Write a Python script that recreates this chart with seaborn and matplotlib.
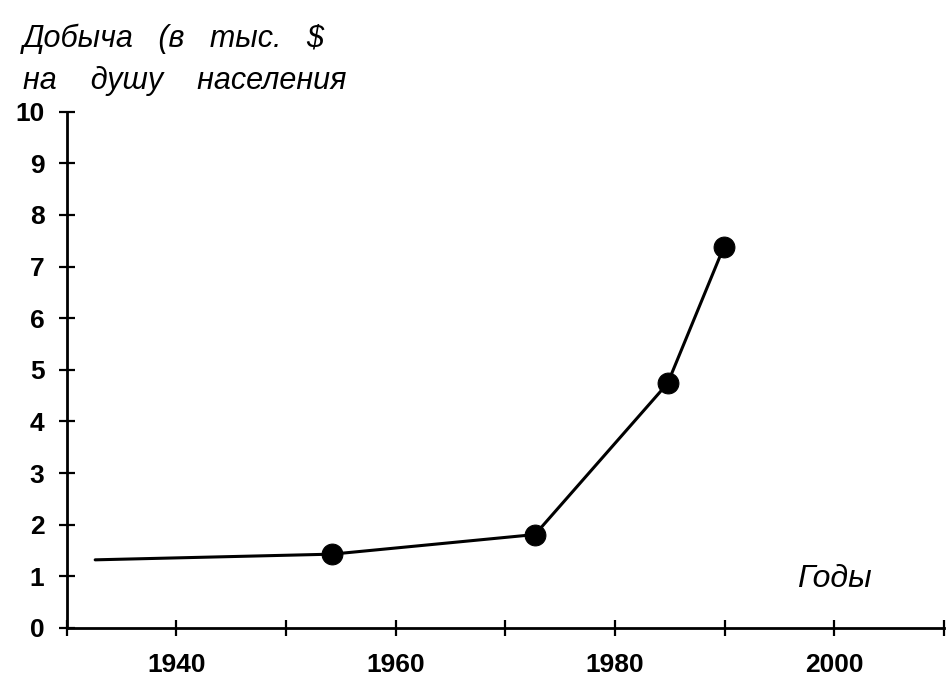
import matplotlib
matplotlib.use("Agg")
import matplotlib.pyplot as plt
import seaborn as sns
import pandas as pd
from matplotlib.ticker import FixedLocator

# Data
years = [1932.6, 1954.2, 1972.7, 1984.8, 1989.9]
values = [1.32, 1.43, 1.81, 4.74, 7.37]
marked = [1, 2, 3, 4]  # indices of points drawn with a dot
x_major = [1940, 1960, 1980, 2000]
x_minor = [1930, 1950, 1970, 1990, 2010]
y_ticks = list(range(0, 11))
title_line1 = "Добыча   (в   тыс.   $"
title_line2 = "на    душу    населения"
x_label = "Годы"

sns.set_theme(style="white")
plt.rcParams['font.family'] = ['Liberation Sans', 'DejaVu Sans']

df = pd.DataFrame({"year": years, "value": values})

fig = plt.figure(figsize=(9.47, 6.8), dpi=100)
ax = fig.add_axes([0.0704, 0.0765, 0.9265, 0.7592])

sns.lineplot(data=df, x="year", y="value", ax=ax, color="black",
             linewidth=2.2, marker="o", markersize=15, markevery=marked,
             markeredgecolor="black", markerfacecolor="black", sort=False)

ax.set_xlim(1930, 2010)
ax.set_ylim(0, 10)
ax.set_xlabel("")
ax.set_ylabel("")

for s in ["top", "right"]:
    ax.spines[s].set_visible(False)
for s in ["left", "bottom"]:
    ax.spines[s].set_color("black")
    ax.spines[s].set_linewidth(2.0)

ax.xaxis.set_major_locator(FixedLocator(x_major))
ax.xaxis.set_minor_locator(FixedLocator(x_minor))
ax.yaxis.set_major_locator(FixedLocator(y_ticks))
ax.set_xticklabels([str(v) for v in x_major])
ax.set_yticklabels([str(v) for v in y_ticks])

ax.tick_params(axis="both", which="both", direction="inout", length=12,
               width=1.6, color="black", bottom=True, left=True)
ax.tick_params(axis="x", which="major", pad=12, labelsize=19)
ax.tick_params(axis="y", which="major", pad=10, labelsize=19)
for lab in ax.get_xticklabels() + ax.get_yticklabels():
    lab.set_fontweight("bold")
    lab.set_color("black")

ax.text(2000, 0.8, x_label, fontsize=23, fontstyle="italic", color="black",
        ha="center", va="baseline", transform=ax.transData)

fig.text(23 / 947, 1 - 47 / 680, title_line1, fontsize=22, fontstyle="italic",
         color="black", ha="left", va="baseline")
fig.text(23 / 947, 1 - 89 / 680, title_line2, fontsize=22, fontstyle="italic",
         color="black", ha="left", va="baseline")

fig.savefig("out.png", dpi=100)
